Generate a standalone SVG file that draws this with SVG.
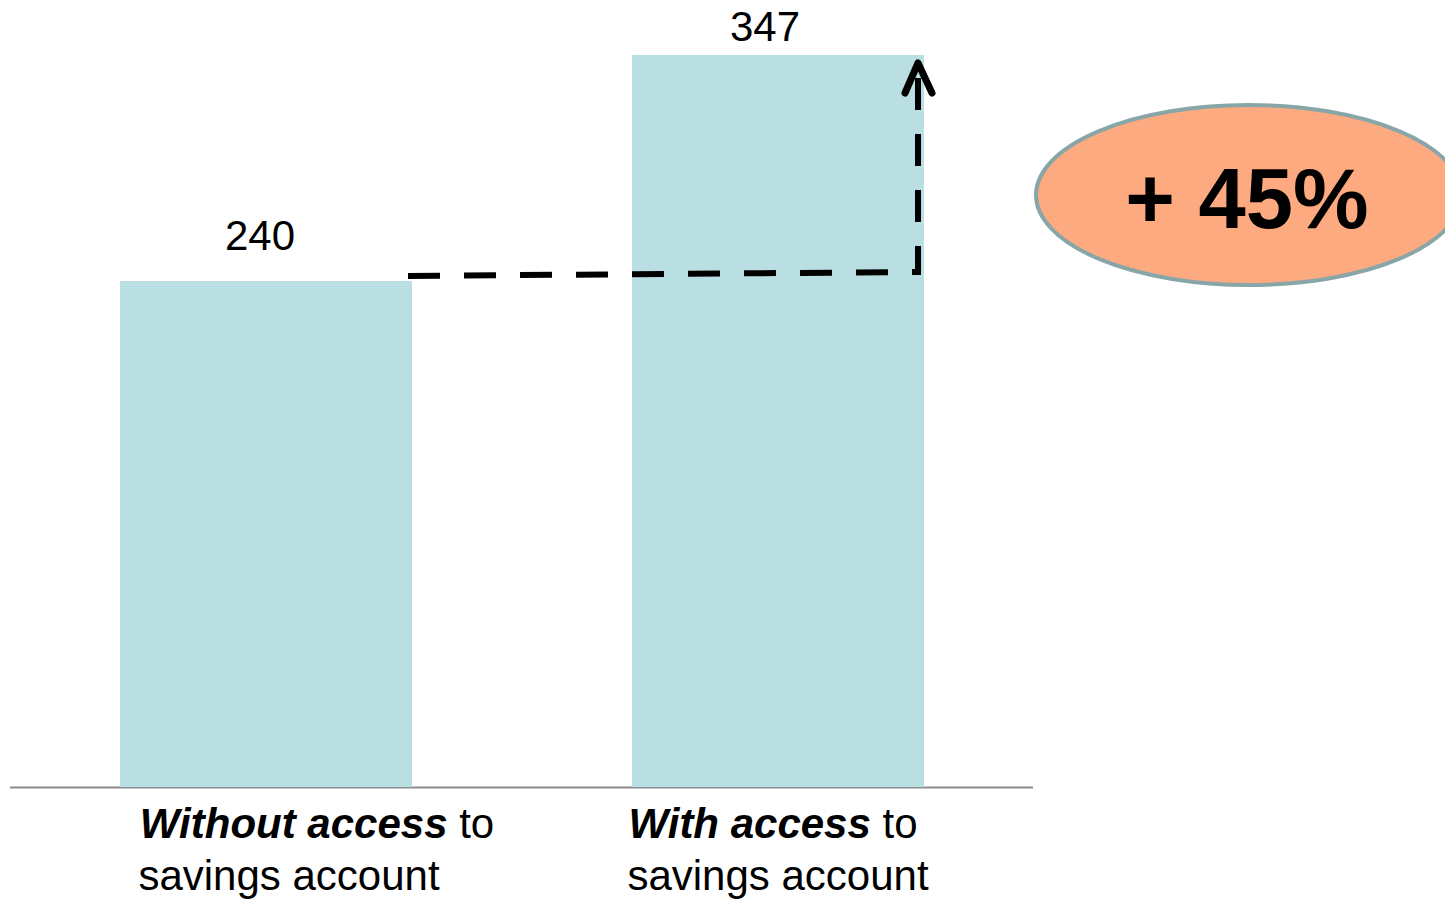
<svg xmlns="http://www.w3.org/2000/svg" width="1445" height="899" viewBox="0 0 1445 899">
<style>
.bar{fill:#B9DFE2}
.t{font-family:"Liberation Sans",Arial,sans-serif;fill:#000}
.val{font-size:42px}
.cat{font-size:42px}
.dash{fill:none;stroke:#000;stroke-width:6;stroke-dasharray:32 24}
</style>
<g id="axis">
<line x1="10" y1="787.5" x2="1033" y2="787.5" stroke="#8C8C8C" stroke-width="2"/>
</g>
<g id="bar1">
<rect class="bar" x="120" y="281" width="292" height="506"/>
<text class="t val" x="260" y="250" text-anchor="middle">240</text>
</g>
<g id="bar2">
<rect class="bar" x="632" y="55" width="292" height="732"/>
<text class="t val" x="765" y="41" text-anchor="middle">347</text>
</g>
<g id="label1">
<text class="t cat" x="317" y="838" text-anchor="middle"><tspan font-weight="bold" font-style="italic">Without access</tspan> to</text>
<text class="t cat" x="289" y="890" text-anchor="middle">savings account</text>
</g>
<g id="label2">
<text class="t cat" x="773" y="838" text-anchor="middle"><tspan font-weight="bold" font-style="italic">With access</tspan> to</text>
<text class="t cat" x="778" y="890" text-anchor="middle">savings account</text>
</g>
<g id="connectors">
<path class="dash" d="M408,276 L918,272 L918,64"/>
<path d="M905,93 L918,63 L932,93" fill="none" stroke="#000" stroke-width="7" stroke-linecap="round" stroke-linejoin="round"/>
</g>
<g id="badge">
<ellipse cx="1249" cy="195" rx="213" ry="90" fill="#FDAA80" stroke="#88A6A8" stroke-width="4"/>
<text class="t" x="1247" y="228" text-anchor="middle" font-size="85" font-weight="bold">+ 45%</text>
</g>
</svg>
